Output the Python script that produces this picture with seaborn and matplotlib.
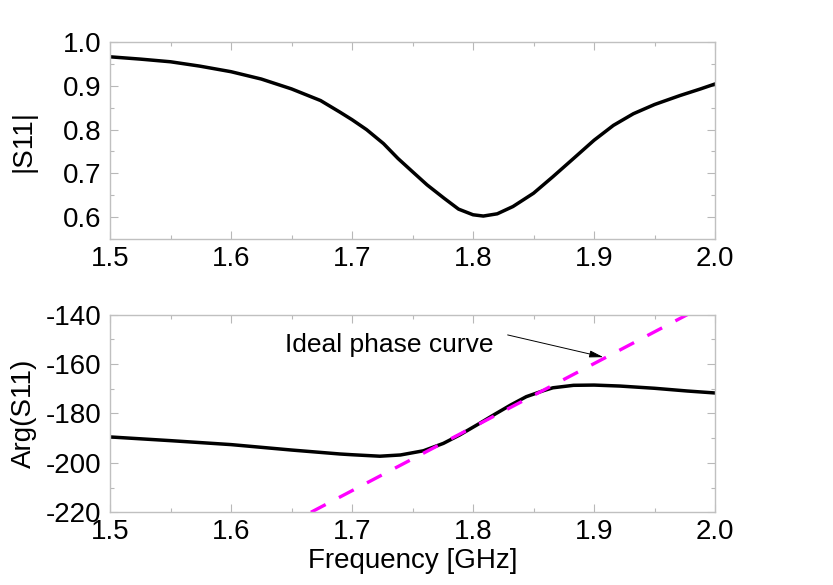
import numpy as np
import pandas as pd
import matplotlib
matplotlib.use("Agg")
import matplotlib.pyplot as plt
import seaborn as sns
from matplotlib.ticker import MultipleLocator, FormatStrFormatter

# data
freq_mag = [1.5, 1.525, 1.55, 1.574, 1.6, 1.625, 1.65, 1.674, 1.69, 1.7, 1.712,
            1.726, 1.738, 1.75, 1.762, 1.776, 1.788, 1.8, 1.8085, 1.82, 1.833,
            1.85, 1.866, 1.883, 1.9, 1.916, 1.9325, 1.95, 1.971, 1.988, 2.0]
s11_mag = [0.9656, 0.9604, 0.9543, 0.9445, 0.9317, 0.915, 0.8925, 0.866, 0.8396,
           0.8224, 0.7998, 0.768, 0.734, 0.7039, 0.674, 0.6437, 0.6188, 0.6059,
           0.603, 0.6081, 0.6247, 0.655, 0.6926, 0.734, 0.7756, 0.8095, 0.836,
           0.857, 0.8774, 0.8925, 0.9038]

freq_arg = [1.5, 1.55, 1.6, 1.65, 1.69, 1.7, 1.723, 1.74, 1.759, 1.7755, 1.789,
            1.803, 1.817, 1.831, 1.844, 1.858, 1.866, 1.883, 1.9, 1.9215, 1.95,
            1.977, 2.0]
s11_arg = [-189.5, -191.0, -192.6, -194.8, -196.4, -196.7, -197.3, -196.8, -195.1,
           -192.1, -188.7, -184.7, -180.6, -176.6, -173.2, -170.8, -169.6, -168.6,
           -168.5, -168.9, -169.8, -170.9, -171.7]

ideal_freq = [1.666, 1.977]
ideal_arg = [-220, -140]

df_mag = pd.DataFrame({"f": freq_mag, "v": s11_mag})
df_arg = pd.DataFrame({"f": freq_arg, "v": s11_arg})
df_ideal = pd.DataFrame({"f": ideal_freq, "v": ideal_arg})

sns.set_theme(style="ticks")
plt.rcParams["font.family"] = ["Liberation Sans", "DejaVu Sans"]
plt.rcParams["axes.unicode_minus"] = False
plt.rcParams["text.color"] = "black"
plt.rcParams["axes.labelcolor"] = "black"

fig = plt.figure(figsize=(8.33, 5.85), dpi=100)
ax1 = fig.add_axes([0.1321, 0.5909, 0.7263, 0.3378])
ax2 = fig.add_axes([0.1321, 0.1243, 0.7263, 0.3378])

sns.lineplot(data=df_mag, x="f", y="v", ax=ax1, color="black", lw=2.5, sort=False)
sns.lineplot(data=df_arg, x="f", y="v", ax=ax2, color="black", lw=2.5, sort=False)
sns.lineplot(data=df_ideal, x="f", y="v", ax=ax2, color="#ff00ff", lw=2.4,
             linestyle=(0, (5, 4.5)))

ax1.set_ylim(0.55, 1.0)
ax1.yaxis.set_major_locator(MultipleLocator(0.1))
ax1.yaxis.set_minor_locator(MultipleLocator(0.05))
ax1.yaxis.set_major_formatter(FormatStrFormatter("%.1f"))
ax2.set_ylim(-220, -140)
ax2.yaxis.set_major_locator(MultipleLocator(20))
ax2.yaxis.set_minor_locator(MultipleLocator(10))

for ax in (ax1, ax2):
    ax.set_xlim(1.5, 2.0)
    ax.xaxis.set_major_locator(MultipleLocator(0.1))
    ax.xaxis.set_minor_locator(MultipleLocator(0.05))
    ax.xaxis.set_major_formatter(FormatStrFormatter("%.1f"))
    for sp in ax.spines.values():
        sp.set_visible(True)
        sp.set_color("#c0c0c0")
        sp.set_linewidth(1.0)
    ax.tick_params(which="both", direction="in", top=True, right=True,
                   color="#b8b8b8", width=0.8, labelsize=20, labelcolor="black")
    ax.tick_params(which="major", length=5.5)
    ax.tick_params(which="minor", length=3)
    ax.tick_params(axis="x", pad=5)
    ax.tick_params(axis="y", pad=6)
    ax.set_xlabel("")

ax1.set_ylabel("|S11|", fontsize=20)
ax2.set_ylabel("Arg(S11)", fontsize=20)
ax1.yaxis.set_label_coords(-0.121, 0.5)
ax2.yaxis.set_label_coords(-0.121, 0.5)
ax2.set_xlabel("Frequency [GHz]", fontsize=20, labelpad=2)

ax2.text(1.6446, -155.0, "Ideal phase curve", ha="left", va="baseline", fontsize=19)
ax2.annotate("", xy=(1.9077, -157.2), xytext=(1.8286, -148.2),
             arrowprops=dict(arrowstyle="-|>,head_length=0.6,head_width=0.15",
                             color="black", lw=0.7, mutation_scale=14,
                             shrinkA=0, shrinkB=0))

fig.savefig("out.png", dpi=100)
